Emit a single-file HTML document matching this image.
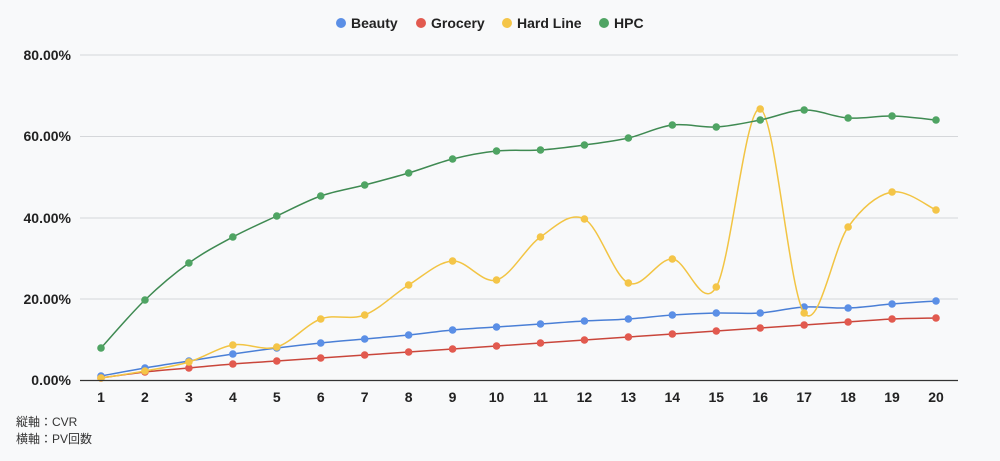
<!DOCTYPE html>
<html><head><meta charset="utf-8"><style>
html,body{margin:0;padding:0;background:#f8f9fa;}
svg{display:block;font-family:"Liberation Sans","Noto Sans CJK JP",sans-serif;}
</style></head><body>
<svg id="c" width="1000" height="461" viewBox="0 0 1000 461">
<rect width="1000" height="461" fill="#f8f9fa"/>
<g stroke="#d5d7da" stroke-width="1">
<line x1="80" y1="55" x2="958" y2="55"/>
<line x1="80" y1="136.5" x2="958" y2="136.5"/>
<line x1="80" y1="218" x2="958" y2="218"/>
<line x1="80" y1="299" x2="958" y2="299"/>
</g>
<g font-size="14" font-weight="bold" fill="#222" text-anchor="end">
<text x="71" y="60">80.00%</text>
<text x="71" y="141">60.00%</text>
<text x="71" y="223">40.00%</text>
<text x="71" y="304">20.00%</text>
<text x="71" y="385">0.00%</text>
</g>
<g id="series"></g>
<line x1="80" y1="380.5" x2="958" y2="380.5" stroke="#333" stroke-width="1.3"/>
<g id="xl" font-size="14" font-weight="bold" fill="#222" text-anchor="middle"></g>
<g font-size="12" fill="#333">
<text x="16" y="426">縦軸：CVR</text>
<text x="16" y="443">横軸：PV回数</text>
</g>
<g font-size="14" font-weight="bold" fill="#222">
<circle cx="341" cy="23" r="5" fill="#5b8fe6"/><text x="351" y="28">Beauty</text>
<circle cx="421" cy="23" r="5" fill="#e25a4f"/><text x="431" y="28">Grocery</text>
<circle cx="507" cy="23" r="5" fill="#f4c548"/><text x="517" y="28">Hard Line</text>
<circle cx="604" cy="23" r="5" fill="#4fa463"/><text x="614" y="28">HPC</text>
</g>
</svg>
<script>
var X=function(i){return 101+i*835/19;};
var S=[
["#4a7fd6","#5b8fe6",[376,368,361,354,348,343,339,335,330,327,324,321,319,315,313,313,307,308,304,301]],
["#c9463b","#e25a4f",[378,372,368,364,361,358,355,352,349,346,343,340,337,334,331,328,325,322,319,318]],
["#f2c443","#f4c548",[378,371,362,345,347,319,315,285,261,280,237,219,283,259,287,109,313,227,192,210]],
["#3f8a52","#4fa463",[348,300,263,237,216,196,185,173,159,151,150,145,138,125,127,120,110,118,116,120]]];
var g=document.getElementById("series"),ns="http://www.w3.org/2000/svg",h="";
S.forEach(function(s){var y=s[2],p=y.map(function(v,i){return[X(i),v]});
var d="M"+p[0][0]+","+p[0][1];
for(var i=0;i<p.length-1;i++){var p0=p[Math.max(i-1,0)],p1=p[i],p2=p[i+1],p3=p[Math.min(i+2,p.length-1)],t=0.5/3*2;
d+=" C"+(p1[0]+(p2[0]-p0[0])*t/2)+","+(p1[1]+(p2[1]-p0[1])*t/2)+" "+(p2[0]-(p3[0]-p1[0])*t/2)+","+(p2[1]-(p3[1]-p1[1])*t/2)+" "+p2[0]+","+p2[1];}
h+='<path d="'+d+'" fill="none" stroke="'+s[0]+'" stroke-width="1.5"/>';
p.forEach(function(q){h+='<circle cx="'+q[0]+'" cy="'+q[1]+'" r="3.8" fill="'+s[1]+'"/>';});});
g.innerHTML=h;
var xl="";for(var i=0;i<20;i++)xl+='<text x="'+X(i)+'" y="402">'+(i+1)+'</text>';
document.getElementById("xl").innerHTML=xl;
</script>
</body></html>
